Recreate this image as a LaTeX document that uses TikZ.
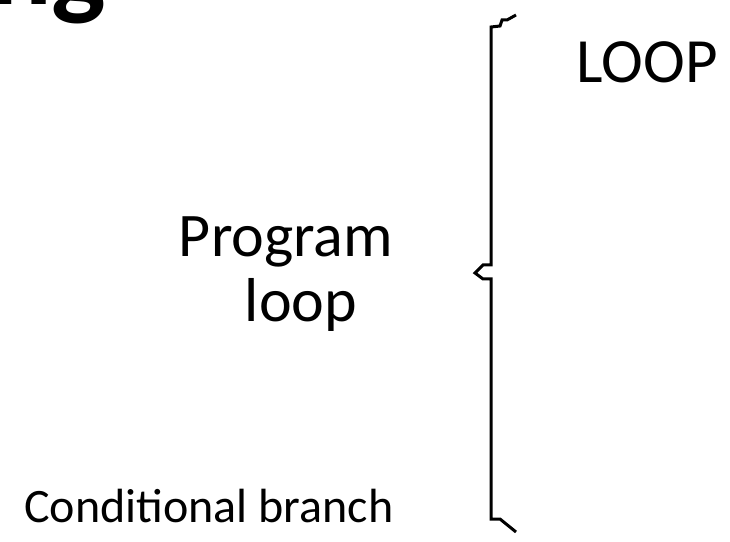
\documentclass[tikz,border=0pt]{standalone}
\usepackage{fontspec}
\setmainfont{Carlito}
\tikzset{
  brace/.style={line width=3pt, line join=miter},
  lbl/.style={inner sep=0pt, text=black},
}
\begin{document}
\begin{tikzpicture}[x=1pt,y=1pt]
\useasboundingbox (0,0) rectangle (730,541);
\fill[white] (0,0) rectangle (730,541);
% partial title, cut off by the page edge
\node[lbl, anchor=base west, font=\bfseries\fontsize{115}{115}\selectfont] (title) at (-10,536) {ng};
% labels
\node[lbl, anchor=base, font=\fontsize{63}{63}\selectfont] (loop) at (647,458) {LOOP};
\node[lbl, anchor=base, font=\fontsize{62}{62}\selectfont] (prog) at (286,284) {Program};
\node[lbl, anchor=base, font=\fontsize{62}{62}\selectfont] (ploop) at (301,219) {loop};
\node[lbl, anchor=base west, font=\fontsize{48}{48}\selectfont] (cond) at (24,19) {Conditional branch};
% brace
\coordinate (btop) at (516,526);
\coordinate (bbot) at (516,9);
\draw[brace] (btop) -- (507,521) -- (502,521) -- (500,515) -- (491,514)
  -- (491,276) -- (483,276) -- (475,268) -- (483,262) -- (491,262)
  -- (491,22) -- (500,22) -- (bbot);
\end{tikzpicture}
\end{document}
